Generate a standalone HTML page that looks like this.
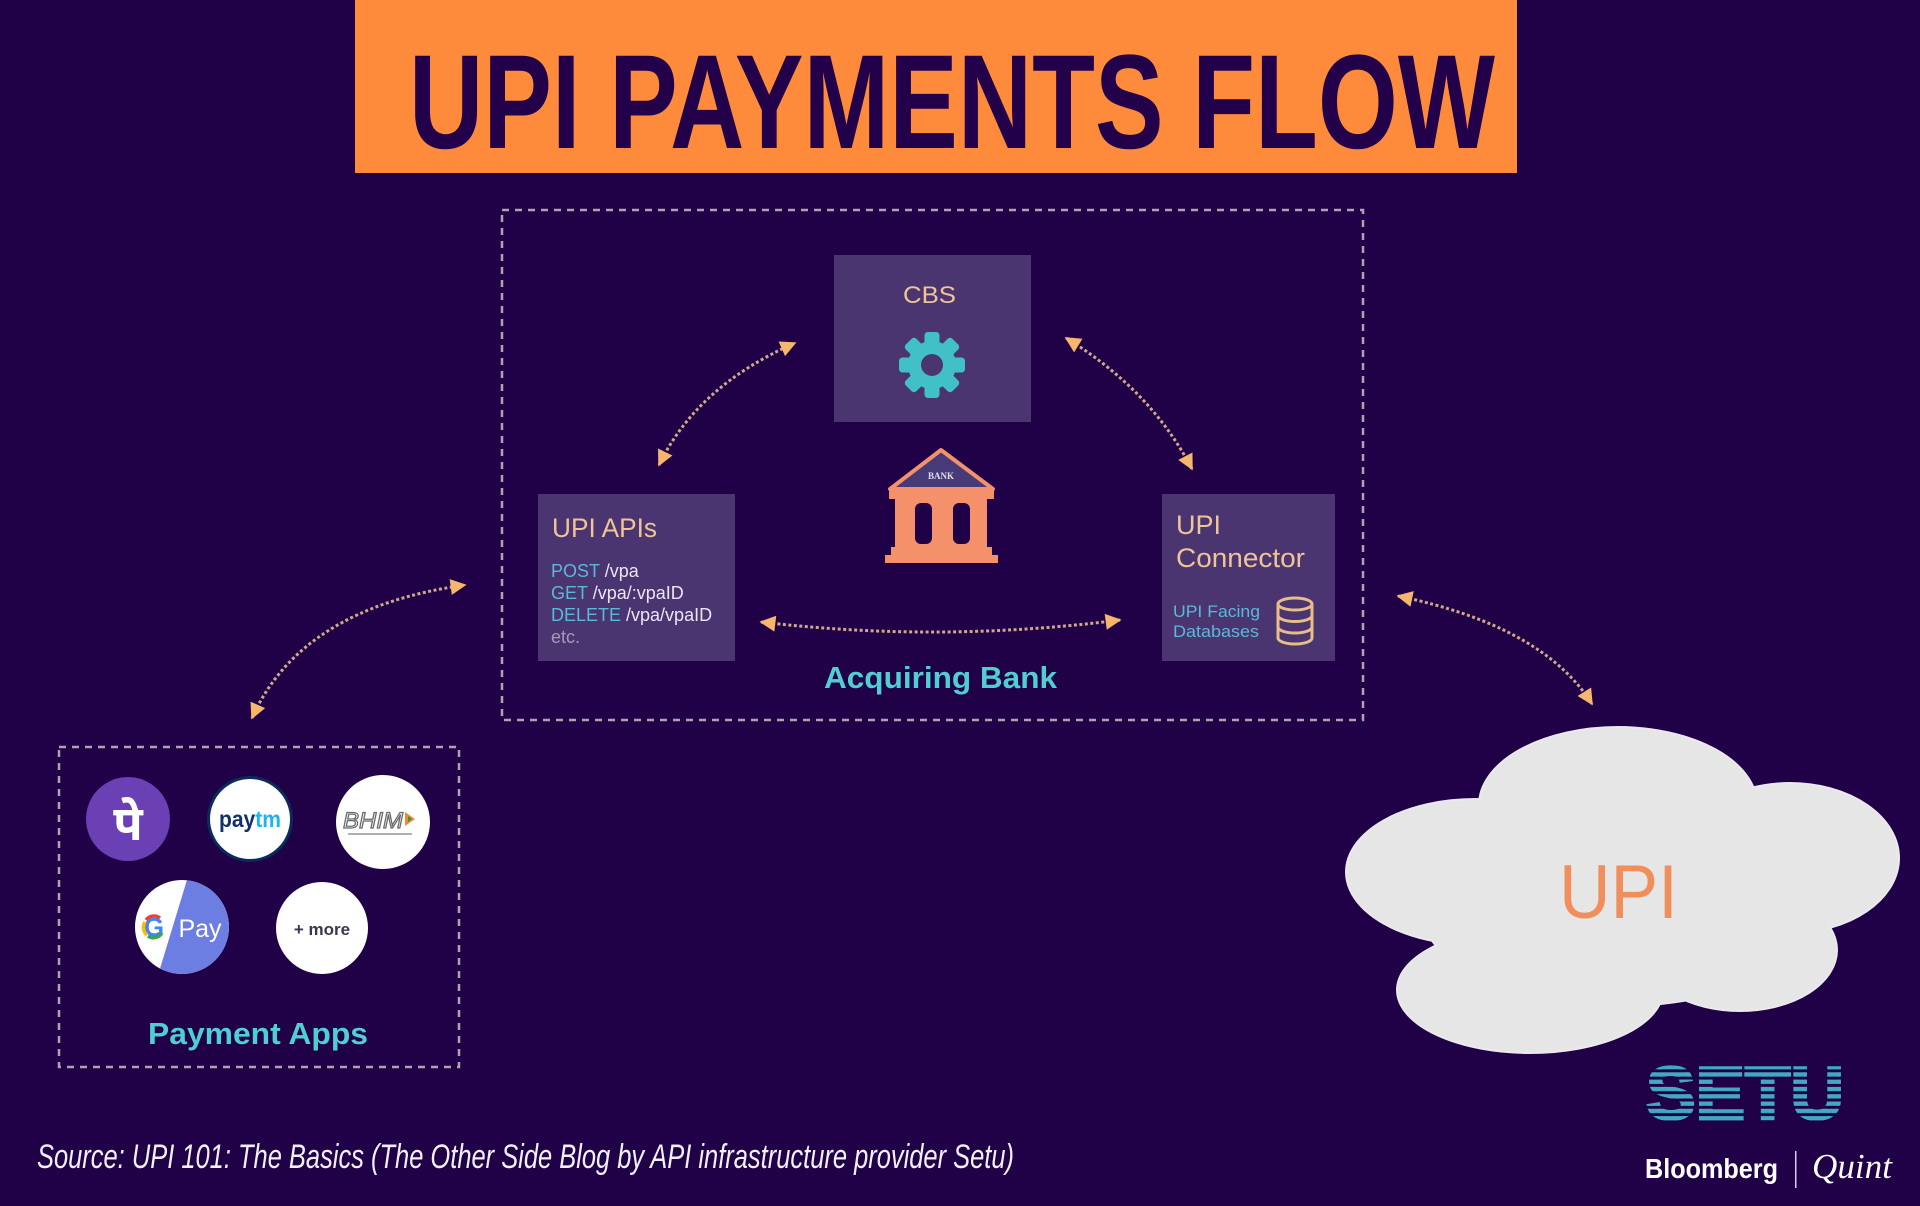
<!DOCTYPE html>
<html>
<head>
<meta charset="utf-8">
<style>
html,body{margin:0;padding:0;background:#200047;}
body{width:1920px;height:1206px;overflow:hidden;}
svg{display:block;}
</style>
</head>
<body>
<svg width="1920" height="1206" viewBox="0 0 1920 1206" xmlns="http://www.w3.org/2000/svg">
<defs>
  <marker id="ah" viewBox="0 0 10 10" refX="9" refY="5" markerUnits="userSpaceOnUse" markerWidth="18" markerHeight="16" orient="auto-start-reverse">
    <path d="M0,0 L10,5 L0,10 z" fill="#f7b66e"/>
  </marker>
  <pattern id="stripes" patternUnits="userSpaceOnUse" x="0" y="1065" width="10" height="7.3">
    <rect x="0" y="0" width="10" height="4.3" fill="#42a9c2"/>
  </pattern>
</defs>

<rect x="0" y="0" width="1920" height="1206" fill="#200047"/>

<!-- Header -->
<rect x="355" y="0" width="1162" height="173" fill="#fe8b3b"/>
<text x="409" y="148" font-family="Liberation Sans, sans-serif" font-weight="bold" font-size="134" fill="#22004a" textLength="1086" lengthAdjust="spacingAndGlyphs">UPI PAYMENTS FLOW</text>

<!-- Acquiring bank dashed container -->
<rect x="502" y="210" width="861" height="510" fill="none" stroke="#b99eb0" stroke-width="2.5" stroke-dasharray="7 6"/>

<!-- CBS box -->
<rect x="834" y="255" width="197" height="167" fill="#4a3570"/>
<text x="903" y="303" font-family="Liberation Sans, sans-serif" font-size="24" fill="#efc496" textLength="53" lengthAdjust="spacingAndGlyphs">CBS</text>
<g transform="translate(932,365)" fill="#41c0c8">
  <circle r="24"/>
  <g>
    <rect x="-7.5" y="-33" width="15" height="15" rx="3.5"/>
    <rect x="-7.5" y="-33" width="15" height="15" rx="3.5" transform="rotate(45)"/>
    <rect x="-7.5" y="-33" width="15" height="15" rx="3.5" transform="rotate(90)"/>
    <rect x="-7.5" y="-33" width="15" height="15" rx="3.5" transform="rotate(135)"/>
    <rect x="-7.5" y="-33" width="15" height="15" rx="3.5" transform="rotate(180)"/>
    <rect x="-7.5" y="-33" width="15" height="15" rx="3.5" transform="rotate(225)"/>
    <rect x="-7.5" y="-33" width="15" height="15" rx="3.5" transform="rotate(270)"/>
    <rect x="-7.5" y="-33" width="15" height="15" rx="3.5" transform="rotate(315)"/>
  </g>
  <circle r="11" fill="#4a3570"/>
</g>

<!-- UPI APIs box -->
<rect x="538" y="494" width="197" height="167" fill="#4a3570"/>
<text x="552" y="537" font-family="Liberation Sans, sans-serif" font-size="27" fill="#efc496" textLength="105" lengthAdjust="spacingAndGlyphs">UPI APIs</text>
<g font-family="Liberation Sans, sans-serif" font-size="18">
  <text x="551" y="577"><tspan fill="#5cb8d8">POST</tspan><tspan fill="#ece4f4"> /vpa</tspan></text>
  <text x="551" y="599"><tspan fill="#5cb8d8">GET</tspan><tspan fill="#ece4f4"> /vpa/:vpaID</tspan></text>
  <text x="551" y="621"><tspan fill="#5cb8d8">DELETE</tspan><tspan fill="#ece4f4"> /vpa/vpaID</tspan></text>
  <text x="551" y="643" fill="#a898c0">etc.</text>
</g>

<!-- UPI Connector box -->
<rect x="1162" y="494" width="173" height="167" fill="#4a3570"/>
<text x="1176" y="534" font-family="Liberation Sans, sans-serif" font-size="27" fill="#efc496">UPI</text>
<text x="1176" y="567" font-family="Liberation Sans, sans-serif" font-size="27" fill="#efc496" textLength="129" lengthAdjust="spacingAndGlyphs">Connector</text>
<text x="1173" y="617" font-family="Liberation Sans, sans-serif" font-size="17" fill="#5cb8d8" textLength="87" lengthAdjust="spacingAndGlyphs">UPI Facing</text>
<text x="1173" y="637" font-family="Liberation Sans, sans-serif" font-size="17" fill="#5cb8d8" textLength="86" lengthAdjust="spacingAndGlyphs">Databases</text>
<g fill="none" stroke="#e9bd8a" stroke-width="3">
  <ellipse cx="1295" cy="604" rx="17" ry="6"/>
  <path d="M1278,604 L1278,638 A17,6 0 0 0 1312,638 L1312,604"/>
  <path d="M1278,615.5 A17,6 0 0 0 1312,615.5"/>
  <path d="M1278,627 A17,6 0 0 0 1312,627"/>
</g>

<!-- Bank icon -->
<g>
  <polygon points="941,450 890,489 993,489" fill="#463a78" stroke="#f4916a" stroke-width="4" stroke-linejoin="round"/>
  <text x="941" y="479" text-anchor="middle" font-family="Liberation Serif, serif" font-weight="bold" font-size="9" fill="#e4dcf2">BANK</text>
  <rect x="889" y="489" width="105" height="10" fill="#f4916a"/>
  <rect x="895" y="499" width="92" height="49" fill="#f4916a"/>
  <rect x="915" y="503" width="17" height="41" rx="6" fill="#200047"/>
  <rect x="953" y="503" width="17" height="41" rx="6" fill="#200047"/>
  <rect x="891" y="547" width="101" height="8" fill="#f4916a"/>
  <rect x="885" y="555" width="113" height="8" fill="#f4916a"/>
</g>

<text x="824" y="688" font-family="Liberation Sans, sans-serif" font-weight="bold" font-size="31" fill="#4fcfd2" textLength="233" lengthAdjust="spacingAndGlyphs">Acquiring Bank</text>

<!-- Connectors -->
<g fill="none" stroke="#cfa88c" stroke-width="3" stroke-dasharray="3 2.5">
  <path d="M659,465 Q697,386 795,343" marker-start="url(#ah)" marker-end="url(#ah)"/>
  <path d="M1066,338 Q1151,390 1192,469" marker-start="url(#ah)" marker-end="url(#ah)"/>
  <path d="M761,622 Q940,643 1120,620" marker-start="url(#ah)" marker-end="url(#ah)"/>
  <path d="M252,718 Q301,608 465,585" marker-start="url(#ah)" marker-end="url(#ah)"/>
  <path d="M1398,596 Q1543,626 1592,704" marker-start="url(#ah)" marker-end="url(#ah)"/>
</g>

<!-- Payment apps container -->
<rect x="59" y="747" width="400" height="320" fill="none" stroke="#b99eb0" stroke-width="2.5" stroke-dasharray="7 6"/>

<!-- PhonePe -->
<circle cx="128" cy="819" r="42" fill="#6c40b5"/>
<text x="128" y="840" text-anchor="middle" font-family="Liberation Sans, 'Noto Sans Devanagari', 'Lohit Devanagari', 'FreeSans', sans-serif" font-weight="bold" font-size="48" fill="#ffffff">पे</text>

<!-- Paytm -->
<circle cx="250" cy="819" r="43" fill="#0b2a5c"/>
<circle cx="250" cy="819" r="40" fill="#ffffff"/>
<text x="250" y="827" text-anchor="middle" font-family="Liberation Sans, sans-serif" font-weight="bold" font-size="23" textLength="62" lengthAdjust="spacingAndGlyphs"><tspan fill="#12306e">pay</tspan><tspan fill="#1eb4ec">tm</tspan></text>

<!-- BHIM -->
<circle cx="383" cy="822" r="47" fill="#ffffff"/>
<text x="373" y="828" text-anchor="middle" font-family="Liberation Sans, sans-serif" font-style="italic" font-size="22" fill="#ffffff" stroke="#6a6a6a" stroke-width="1.2" textLength="60" lengthAdjust="spacingAndGlyphs">BHIM</text>
<polygon points="405,812 405,826 415,819" fill="#f08a30"/>
<polygon points="408,816 408,822 412,819" fill="#2c9a48"/>
<rect x="348" y="833" width="64" height="2" fill="#b0b0b0"/>

<!-- GPay -->
<clipPath id="gc"><circle cx="182" cy="927" r="47"/></clipPath>
<g clip-path="url(#gc)">
  <rect x="130" y="875" width="110" height="110" fill="#ffffff"/>
  <polygon points="190,870 240,870 240,985 155,985" fill="#6d7ee2"/>
</g>
<text x="154" y="936" text-anchor="middle" font-family="Liberation Sans, sans-serif" font-weight="bold" font-size="26" fill="#4285f4">G</text>
<path d="M146,920 A10,10 0 0 1 160,918" stroke="#ea4335" stroke-width="3.5" fill="none"/>
<path d="M145,922 A10,10 0 0 0 147,935" stroke="#fbbc05" stroke-width="3.5" fill="none"/>
<path d="M148,936 A10,10 0 0 0 162,933" stroke="#34a853" stroke-width="3.5" fill="none"/>
<text x="200" y="937" text-anchor="middle" font-family="Liberation Sans, sans-serif" font-size="25" fill="#ffffff">Pay</text>

<!-- + more -->
<circle cx="322" cy="928" r="46" fill="#ffffff"/>
<text x="322" y="935" text-anchor="middle" font-family="Liberation Sans, sans-serif" font-weight="bold" font-size="17" fill="#3c3452">+ more</text>

<text x="148" y="1044" font-family="Liberation Sans, sans-serif" font-weight="bold" font-size="31" fill="#4fcfd2" textLength="220" lengthAdjust="spacingAndGlyphs">Payment Apps</text>

<!-- Cloud -->
<g fill="#ebe9ee" stroke="#ebe9ee" stroke-width="4">
  <ellipse cx="1618" cy="805" rx="138" ry="77"/>
  <ellipse cx="1475" cy="872" rx="128" ry="72"/>
  <ellipse cx="1790" cy="858" rx="108" ry="74"/>
  <ellipse cx="1530" cy="990" rx="132" ry="62"/>
  <ellipse cx="1740" cy="950" rx="96" ry="60"/>
  <ellipse cx="1620" cy="905" rx="200" ry="100"/>
</g>
<g fill="#e6e6e6">
  <ellipse cx="1618" cy="805" rx="138" ry="77"/>
  <ellipse cx="1475" cy="872" rx="128" ry="72"/>
  <ellipse cx="1790" cy="858" rx="108" ry="74"/>
  <ellipse cx="1530" cy="990" rx="132" ry="62"/>
  <ellipse cx="1740" cy="950" rx="96" ry="60"/>
  <ellipse cx="1620" cy="905" rx="200" ry="100"/>
</g>
<text x="1559" y="918" font-family="Liberation Sans, sans-serif" font-size="76" fill="#f08e5c" textLength="119" lengthAdjust="spacingAndGlyphs">UPI</text>

<!-- SETU -->
<text x="1646" y="1119" font-family="Liberation Sans, sans-serif" font-weight="bold" font-size="74" fill="url(#stripes)" stroke="url(#stripes)" stroke-width="3" textLength="198" lengthAdjust="spacingAndGlyphs">SETU</text>

<!-- Bloomberg | Quint -->
<text x="1645" y="1178" font-family="Liberation Sans, sans-serif" font-weight="bold" font-size="28" fill="#ffffff" textLength="133" lengthAdjust="spacingAndGlyphs">Bloomberg</text>
<rect x="1795" y="1151" width="1.5" height="37" fill="#d8d0e4"/>
<text x="1812" y="1178" font-family="Liberation Serif, serif" font-style="italic" font-size="35" fill="#ffffff" textLength="80" lengthAdjust="spacingAndGlyphs">Quint</text>

<!-- Source -->
<text x="37" y="1168" font-family="Liberation Sans, sans-serif" font-style="italic" font-size="34" fill="#f2f0f6" textLength="977" lengthAdjust="spacingAndGlyphs">Source: UPI 101: The Basics (The Other Side Blog by API infrastructure provider Setu)</text>
</svg>
</body>
</html>
